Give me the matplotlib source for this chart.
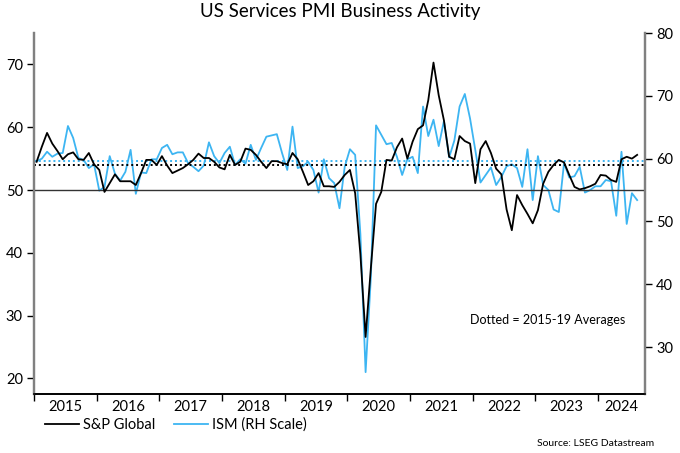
import numpy as np
import pandas as pd
import matplotlib
matplotlib.use("Agg")
import matplotlib.pyplot as plt

plt.rcParams['font.family'] = ['Lato', 'DejaVu Sans']

# monthly, Jan 2015 - Aug 2024
years = [str(y) for y in range(2015, 2025)]

sp_global = [
    54.5, 56.9, 59.1, 57.4, 56.2, 54.9, 55.7, 56.0, 54.9, 54.8, 55.9, 54.1,
    53.2, 49.7, 51.1, 52.5, 51.4, 51.4, 51.4, 50.8, 52.7, 54.8, 54.8, 54.0,
    55.4, 53.9, 52.7, 53.1, 53.5, 54.1, 54.8, 55.8, 55.1, 55.1, 54.5, 53.6,
    53.3, 55.6, 54.0, 54.5, 56.6, 56.4, 55.6, 54.5, 53.5, 54.6, 54.6, 54.3,
    54.1, 55.9, 54.9, 52.9, 50.8, 51.4, 52.7, 50.6, 50.6, 50.5, 51.3, 52.4,
    53.2, 49.5, 39.8, 26.6, 37.5, 47.8, 49.7, 54.8, 54.7, 56.8, 58.2, 55.0,
    57.7, 59.7, 60.3, 64.3, 70.3, 65.1, 61.1, 55.3, 54.9, 58.6, 57.8, 57.4,
    51.1, 56.5, 57.8, 55.9, 53.4, 52.5, 46.9, 43.6, 49.2, 47.6, 46.2, 44.7,
    46.8, 51.0, 52.9, 54.0, 54.8, 54.4, 52.4, 50.5, 50.1, 50.3, 50.6, 51.0,
    52.4, 52.3, 51.6, 51.3, 54.9, 55.3, 55.0, 55.6,
]

ism = [
    59.6, 60.0, 61.1, 60.3, 60.8, 60.9, 65.2, 63.3, 60.1, 59.8, 58.5, 59.1,
    54.9, 55.5, 60.4, 57.6, 56.5, 57.9, 61.4, 54.4, 57.8, 57.7, 59.9, 59.9,
    61.7, 62.2, 60.7, 61.0, 61.0, 59.3, 58.7, 58.0, 58.9, 62.6, 60.4, 59.3,
    60.9, 61.9, 59.0, 59.9, 59.2, 62.2, 59.8, 61.7, 63.5, 63.7, 63.9, 60.9,
    58.2, 65.1, 58.5, 58.8, 59.5, 58.2, 54.6, 59.9, 56.9, 56.1, 52.1, 58.7,
    61.5, 60.6, 48.0, 26.0, 41.0, 65.3, 63.8, 62.3, 62.5, 60.3, 57.4, 59.9,
    60.3, 57.7, 68.3, 63.6, 66.2, 62.0, 66.0, 60.2, 62.9, 68.3, 70.3, 66.4,
    61.4, 56.2, 57.4, 58.6, 55.8, 57.1, 58.8, 59.1, 58.5, 55.5, 61.5, 53.4,
    60.4, 55.8, 55.0, 51.9, 51.5, 59.3, 57.0, 57.2, 58.7, 54.6, 55.0, 55.6,
    55.6, 56.6, 56.4, 50.9, 61.1, 49.6, 54.5, 53.4,
]

x = np.arange(len(sp_global))
sp_avg = np.mean(sp_global[:60])
ism_avg = np.mean(ism[:60])

black = '#000000'
blue = '#3db5f2'
grey = '#808080'

fig = plt.figure(figsize=(6.8, 4.53), dpi=100)
ax = fig.add_axes([0.05, 0.130, 0.8985, 0.797])
ax2 = ax.twinx()

ax.axhline(50, color='#333333', lw=1.0, zorder=1)
ax.axhline(sp_avg, color=black, lw=1.4, ls=(0, (1, 1.5)), zorder=1)
ax2.axhline(ism_avg, color=blue, lw=1.4, ls=(0, (1, 1.5)), zorder=1)

ax2.plot(x, ism, color=blue, lw=1.3, zorder=2)
ax.plot(x, sp_global, color=black, lw=1.3, zorder=3)
ax.set_zorder(ax2.get_zorder() + 1)
ax.patch.set_visible(False)

ax.set_xlim(-0.4, 116.5)
ax.set_ylim(17.5, 75)
ax2.set_ylim(22.5, 80)
ax.set_yticks(range(20, 80, 10))
ax2.set_yticks(range(30, 90, 10))

# year boundaries as tick marks, labels centred in each year
bounds = [12 * k - 0.5 for k in range(len(years))]
ax.set_xticks(bounds)
ax.set_xticklabels([])
mids = [12 * k + 5.5 for k in range(len(years) - 1)] + [(bounds[-1] + 116.5) / 2]
ax.set_xticks(mids, minor=True)
ax.set_xticklabels(years, minor=True)
ax.tick_params(axis='x', which='major', length=5, width=1, color=black, direction='out')
ax.tick_params(axis='x', which='minor', length=0, pad=4, labelsize=10.5)

for a in (ax, ax2):
    a.spines['top'].set_visible(False)
    a.spines['left'].set_color(grey)
    a.spines['right'].set_color(grey)
    a.spines['left'].set_linewidth(1.6)
    a.spines['right'].set_linewidth(1.6)
    a.spines['bottom'].set_color(black)
    a.spines['bottom'].set_linewidth(1.2)
ax.tick_params(axis='y', length=5, width=1, color=black, labelsize=10.5, pad=3)
ax2.tick_params(axis='y', length=5, width=1, color=black, labelsize=10.5, pad=3)

ax.text(83, 29.3, 'Dotted = 2015-19 Averages', fontsize=9, va='center')

fig.text(0.5, 0.975, 'US Services PMI Business Activity', ha='center', va='center', fontsize=13.5)

h1, = ax.plot([], [], color=black, lw=1.3)
h2, = ax.plot([], [], color=blue, lw=1.3)
fig.legend([h1, h2], ['S&P Global', 'ISM (RH Scale)'], loc='center left',
           bbox_to_anchor=(0.058, 0.062), ncol=2, frameon=False, fontsize=10.5,
           handlelength=2.3, handletextpad=0.3, columnspacing=1.3, borderaxespad=0)

fig.text(0.962, 0.022, 'Source: LSEG Datastream', ha='right', va='center', fontsize=7.5)

fig.savefig('out.png', dpi=100)
